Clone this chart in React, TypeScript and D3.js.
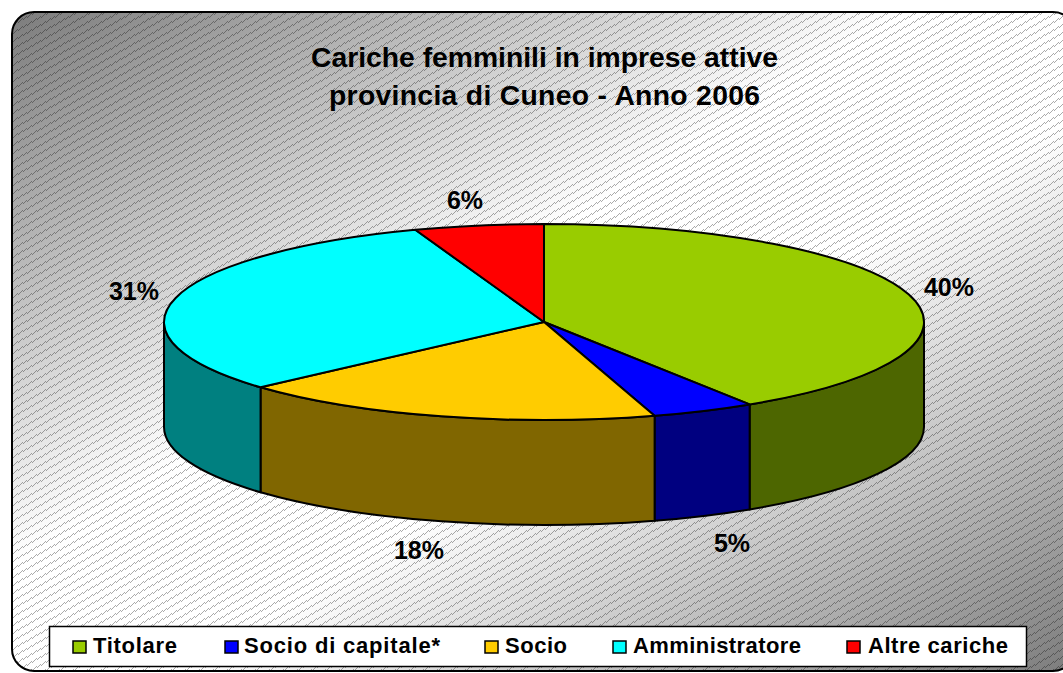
import React from "react";
import * as d3 from "d3";

const categories = ["Titolare", "Socio di capitale*", "Socio", "Amministratore", "Altre cariche"];
const shares = [40.9, 4.4, 18.1, 31.1, 5.5];
const percentLabels = ["40%", "5%", "18%", "31%", "6%"];
const topColors = ["#99CC00", "#0000FF", "#FFCC00", "#00FFFF", "#FF0000"];
const sideColors = ["#4D6600", "#000080", "#806600", "#008080", "#800000"];
const titleLines = ["Cariche femminili in imprese attive", "provincia di Cuneo - Anno 2006"];

const W = 1063, H = 673;
const cx = 544, cy = 322, rx = 380, ry = 98, depth = 105;
const FONT = "'Liberation Sans', Arial, sans-serif";
const titleWidths = [467, 431];
const labelPos = [[949, 287], [732, 543], [419, 550], [134, 291], [465, 200]];
const legendX = [73, 225, 485, 613, 847];
const legendTextX = [93, 244, 505, 633, 868];
const legendWidths = [84, 196, 62, 168, 140];

const arcs = d3.pie<number>().sort(null).value((d) => d)(shares);
const pt = (a: number, dy = 0): [number, number] => [cx + rx * Math.sin(a), cy - ry * Math.cos(a) + dy];

function topPath(a0: number, a1: number) {
  const [x0, y0] = pt(a0), [x1, y1] = pt(a1);
  const large = a1 - a0 > Math.PI ? 1 : 0;
  return `M${cx},${cy}L${x0},${y0}A${rx},${ry} 0 ${large} 1 ${x1},${y1}Z`;
}
function sidePath(a0: number, a1: number) {
  const s = Math.max(a0, Math.PI / 2), e = Math.min(a1, (3 * Math.PI) / 2);
  if (e <= s) return null;
  const [x0, y0] = pt(s), [x1, y1] = pt(e), [x2, y2] = pt(e, depth), [x3, y3] = pt(s, depth);
  return `M${x0},${y0}A${rx},${ry} 0 0 1 ${x1},${y1}L${x2},${y2}A${rx},${ry} 0 0 0 ${x3},${y3}Z`;
}

// hatch tile: thin checkered stripe rising to the right, 14px across and 8px up
const hatchDots: [number, number][] = [];
d3.range(14).forEach((x) => {
  const base = 7 - Math.round((x * 8) / 14);
  d3.range(2).forEach((k) => {
    const y = (base + k + 8) % 8;
    if ((x + y) % 2 === 0) hatchDots.push([x, y]);
  });
});

export default function App() {
  return (
    <svg width={W} height={H} style={{ position: "absolute", left: 0, top: 0, background: "#fff" }} fontFamily={FONT}>
      <defs>
        <linearGradient id="bg" x1={0} y1={0} x2={1} y2={1}>
          <stop offset="0" stopColor="#7c7c7c" />
          <stop offset="0.42" stopColor="#ffffff" />
          <stop offset="0.58" stopColor="#ffffff" />
          <stop offset="1" stopColor="#7c7c7c" />
        </linearGradient>
        <pattern id="hatch" patternUnits="userSpaceOnUse" width={14} height={8}>
          {hatchDots.map(([x, y], i) => (
            <rect key={i} x={x} y={y} width={1} height={1} fill="#000" fillOpacity={0.33} />
          ))}
        </pattern>
      </defs>
      <rect x={12} y={12} width={1063} height={659} rx={22} fill="url(#bg)" />
      <rect x={12} y={12} width={1063} height={659} rx={22} fill="url(#hatch)" stroke="#000" strokeWidth={2} />

      {titleLines.map((t, i) => (
        <text key={t} x={544.5} y={67 + i * 38} textAnchor="middle" fontSize={28.3} fontWeight="bold" fill="#000" textLength={titleWidths[i]}>{t}</text>
      ))}

      {arcs.map((a, i) => {
        const d = sidePath(a.startAngle, a.endAngle);
        return d ? <path key={i} d={d} fill={sideColors[i]} stroke="#000" strokeWidth={2} /> : null;
      })}
      {arcs.map((a, i) => (
        <path key={i} d={topPath(a.startAngle, a.endAngle)} fill={topColors[i]} stroke="#000" strokeWidth={2} strokeLinejoin="round" />
      ))}

      {percentLabels.map((t, i) => (
        <text key={t} x={labelPos[i][0]} y={labelPos[i][1]} dy="0.35em" textAnchor="middle" fontSize={25} fontWeight="bold" fill="#000">{t}</text>
      ))}

      <rect x={49.5} y={626.5} width={977} height={40} fill="#fff" stroke="#000" strokeWidth={1.5} />
      {categories.map((c, i) => (
        <g key={c}>
          <rect x={legendX[i]} y={641} width={13} height={12} fill={topColors[i]} stroke="#000" strokeWidth={1.5} />
          <text x={legendTextX[i]} y={653} fontSize={22} fontWeight="bold" fill="#000" textLength={legendWidths[i]}>{c}</text>
        </g>
      ))}
    </svg>
  );
}
